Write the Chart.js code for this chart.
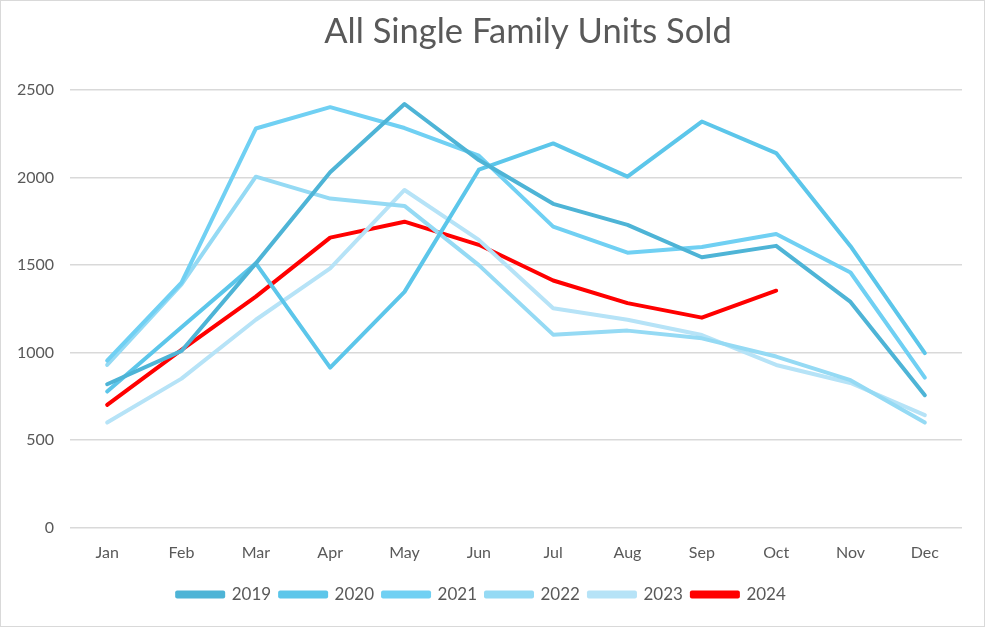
<!DOCTYPE html>
<html>
<head>
<meta charset="utf-8">
<script src="https://cdn.jsdelivr.net/npm/chart.js"></script>
<style>
    html, body { margin: 0; padding: 0; background: #fff; }
    #wrap {
        width: 985px; height: 627px; box-sizing: border-box;
        border: 1px solid #d9d9d9; position: relative;
    }
    canvas { display: block; }
</style>
</head>
<body>
<div id="wrap"><canvas id="unitsChart" width="983" height="625"></canvas></div>
<script>
// Monthly units sold
const months = ['Jan', 'Feb', 'Mar', 'Apr', 'May', 'Jun', 'Jul', 'Aug', 'Sep', 'Oct', 'Nov', 'Dec'];
const sold2019 = [820, 1010, 1510, 2030, 2420, 2100, 1850, 1730, 1545, 1610, 1290, 757];
const sold2020 = [778, 1145, 1510, 915, 1347, 2045, 2195, 2005, 2320, 2140, 1608, 998];
const sold2021 = [955, 1400, 2280, 2402, 2283, 2125, 1720, 1571, 1603, 1678, 1458, 858];
const sold2022 = [930, 1390, 2005, 1880, 1838, 1500, 1103, 1126, 1082, 978, 843, 601];
const sold2023 = [601, 852, 1188, 1482, 1929, 1644, 1254, 1188, 1101, 930, 827, 643];
const sold2024 = [702, 1016, 1320, 1657, 1748, 1616, 1412, 1283, 1200, 1354, null, null];

const yearLabels = ['2019', '2020', '2021', '2022', '2023', '2024'];
const yearColors = ['#4eb4d6', '#5cc6ea', '#70d0f3', '#95daf4', '#b6e3f7', '#ff0000'];

const chartTitle = 'All Single Family Units Sold';
const textGrey = '#595959';
const gridGrey = '#d9d9d9';

const seriesData = [sold2019, sold2020, sold2021, sold2022, sold2023, sold2024];

const datasets = seriesData.map((values, i) => ({
    label: yearLabels[i],
    data: values,
    borderColor: yearColors[i],
    backgroundColor: yearColors[i],
    borderWidth: 4,
    pointRadius: 0,
    pointHoverRadius: 0,
    tension: 0,
    fill: false,
    borderCapStyle: 'round',
    borderJoinStyle: 'round',
    spanGaps: false
}));

// Excel puts the title a bit right of the canvas centre, over the plot area
const titlePlugin = {
    id: 'plotTitle',
    afterDraw(chart) {
        const c = chart.ctx;
        const area = chart.chartArea;
        c.save();
        c.font = '34.5px Lato';
        c.fillStyle = textGrey;
        c.textAlign = 'center';
        c.textBaseline = 'middle';
        c.fillText(chartTitle, (area.left + area.right) / 2 + 12, 31);
        c.restore();
    }
};

const ctx = document.getElementById('unitsChart').getContext('2d');
const unitsChart = new Chart(ctx, {
    type: 'line',
    data: { labels: months, datasets: datasets },
    plugins: [titlePlugin],
    options: {
        responsive: false,
        animation: false,
        layout: { padding: { left: 0, right: 22, top: 89, bottom: 13 } },
        plugins: {
            title: { display: false },
            legend: {
                position: 'bottom',
                labels: {
                    color: textGrey,
                    font: { family: 'Lato', size: 17 },
                    boxWidth: 46,
                    boxHeight: 4,
                    padding: 9
                }
            },
            tooltip: { enabled: false }
        },
        scales: {
            x: {
                offset: true,
                grid: { display: false, drawTicks: false },
                border: { display: false },
                ticks: {
                    color: textGrey,
                    font: { family: 'Lato', size: 16 },
                    padding: 15,
                    maxRotation: 0
                }
            },
            y: {
                min: 0,
                max: 2500,
                afterFit: (scale) => { scale.width = 69; },
                grid: { color: gridGrey, lineWidth: 1.5, drawTicks: false },
                border: { display: false },
                ticks: {
                    stepSize: 500,
                    color: textGrey,
                    font: { family: 'Lato', size: 16 },
                    padding: 16,
                    callback: (value) => String(value)
                }
            }
        }
    }
});
</script>
</body>
</html>
